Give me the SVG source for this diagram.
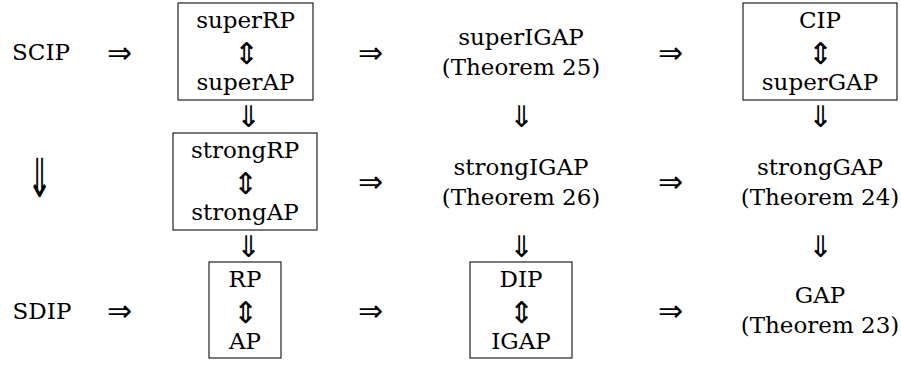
<svg xmlns="http://www.w3.org/2000/svg" width="901" height="367" viewBox="0 0 901 367">
<style>
  .lbl { font-family: 'DejaVu Serif'; font-size: 23px; fill: #000; text-anchor: middle; }
  .arr { font-family: 'Liberation Serif'; font-size: 30px; fill: #000; text-anchor: middle; }
  .frame { fill: none; stroke: #222; stroke-width: 1.2; }
</style>
<rect width="901" height="367" fill="#fff"/>

<g id="node-scip"><text class="lbl" x="41" y="60">SCIP</text></g>
<g id="node-sdip"><text class="lbl" x="42" y="319">SDIP</text></g>

<g id="node-super-rp-ap">
  <rect class="frame" x="178" y="3" width="135" height="97"/>
  <text class="lbl" x="245.5" y="28">superRP</text>
  <text class="arr" x="246" y="64">⇕</text>
  <text class="lbl" x="245.5" y="90">superAP</text>
</g>
<g id="node-super-igap">
  <text class="lbl" x="521" y="44.5">superIGAP</text>
  <text class="lbl" x="521" y="74.5">(Theorem 25)</text>
</g>
<g id="node-cip-supergap">
  <rect class="frame" x="743" y="3" width="154" height="97"/>
  <text class="lbl" x="820" y="28">CIP</text>
  <text class="arr" x="820.5" y="64">⇕</text>
  <text class="lbl" x="820" y="90">superGAP</text>
</g>

<g id="node-strong-rp-ap">
  <rect class="frame" x="173" y="133" width="144" height="97"/>
  <text class="lbl" x="245" y="158">strongRP</text>
  <text class="arr" x="245.5" y="194">⇕</text>
  <text class="lbl" x="245" y="220">strongAP</text>
</g>
<g id="node-strong-igap">
  <text class="lbl" x="521" y="174.5">strongIGAP</text>
  <text class="lbl" x="521" y="204.5">(Theorem 26)</text>
</g>
<g id="node-strong-gap">
  <text class="lbl" x="820" y="174.5">strongGAP</text>
  <text class="lbl" x="820" y="204.5">(Theorem 24)</text>
</g>

<g id="node-rp-ap">
  <rect class="frame" x="209" y="262" width="72" height="96"/>
  <text class="lbl" x="245" y="287">RP</text>
  <text class="arr" x="245.5" y="323">⇕</text>
  <text class="lbl" x="245" y="349">AP</text>
</g>
<g id="node-dip-igap">
  <rect class="frame" x="470" y="262" width="102" height="96"/>
  <text class="lbl" x="521" y="287">DIP</text>
  <text class="arr" x="521.5" y="323">⇕</text>
  <text class="lbl" x="521" y="349">IGAP</text>
</g>
<g id="node-gap">
  <text class="lbl" x="820" y="303">GAP</text>
  <text class="lbl" x="820" y="333">(Theorem 23)</text>
</g>

<g id="connectors">
  <text class="arr" x="119" y="62.5">⇒</text>
  <text class="arr" x="370" y="62.5">⇒</text>
  <text class="arr" x="670" y="62.5">⇒</text>
  <text class="arr" x="370" y="192">⇒</text>
  <text class="arr" x="670" y="192">⇒</text>
  <text class="arr" x="119" y="321">⇒</text>
  <text class="arr" x="370" y="321">⇒</text>
  <text class="arr" x="670" y="321">⇒</text>
  <text class="arr" x="248" y="127">⇓</text>
  <text class="arr" x="521" y="127">⇓</text>
  <text class="arr" x="820" y="127">⇓</text>
  <text class="arr" x="248" y="257">⇓</text>
  <text class="arr" x="521" y="257">⇓</text>
  <text class="arr" x="820" y="257">⇓</text>
  <text class="arr" transform="translate(40 178.5) scale(1 1.8)" x="0" y="10">⇓</text>
</g>
</svg>
